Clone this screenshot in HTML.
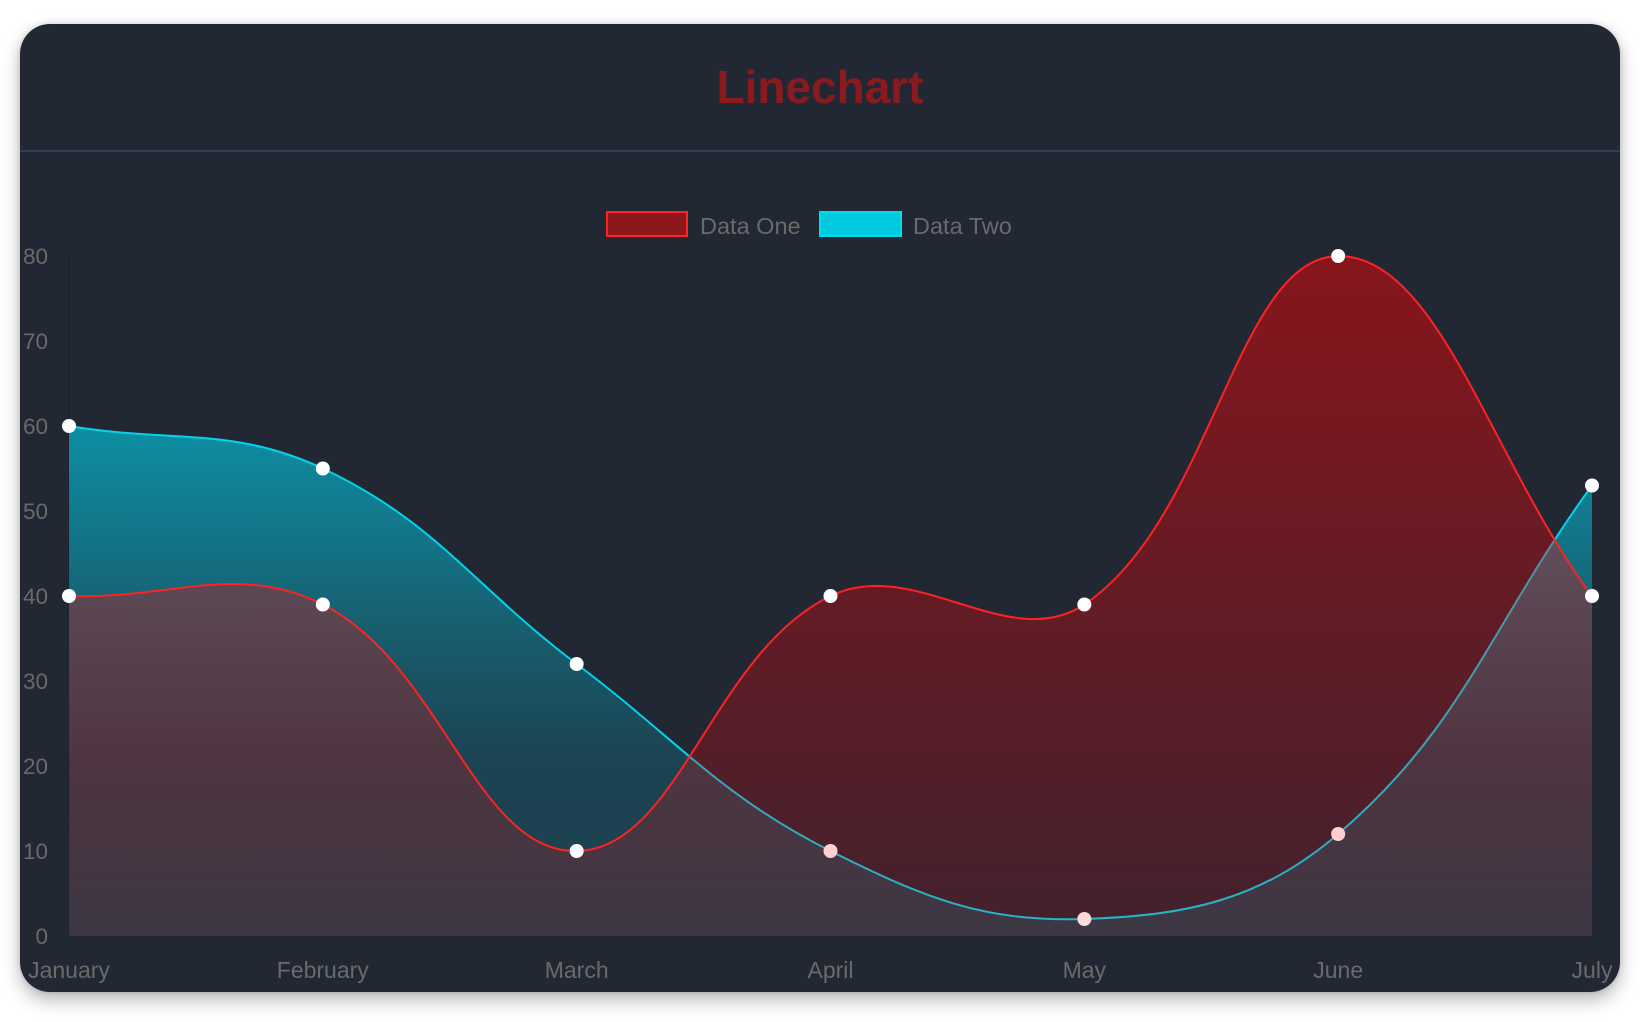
<!DOCTYPE html>
<html>
<head>
<meta charset="utf-8">
<style>
  html, body { margin: 0; padding: 0; background: #ffffff; }
  body { width: 1640px; height: 1022px; position: relative; overflow: hidden; }
  .card {
    position: absolute; left: 20px; top: 24px; width: 1600px; height: 968px;
    background: #222734; border-radius: 30px;
    box-shadow: 0 8px 18px rgba(0,0,0,0.28), 0 0 6px rgba(0,0,0,0.14);
  }
  svg { position: absolute; left: 0; top: 0; }
  text { font-family: "Liberation Sans", Arial, sans-serif; }
</style>
</head>
<body>
<div class="card"></div>
<svg width="1640" height="1022" viewBox="0 0 1640 1022" xmlns="http://www.w3.org/2000/svg">
  <defs>
    <linearGradient id="gTeal" gradientUnits="userSpaceOnUse" x1="0" y1="256" x2="0" y2="936">
      <stop offset="0" stop-color="rgb(0,206,230)" stop-opacity="0.87"/>
      <stop offset="0.241" stop-color="rgb(0,206,230)" stop-opacity="0.63"/>
      <stop offset="0.579" stop-color="rgb(0,206,230)" stop-opacity="0.30"/>
      <stop offset="0.741" stop-color="rgb(0,206,230)" stop-opacity="0.17"/>
      <stop offset="1" stop-color="rgb(0,206,230)" stop-opacity="0.15"/>
    </linearGradient>
    <linearGradient id="gRed" gradientUnits="userSpaceOnUse" x1="0" y1="256" x2="0" y2="936">
      <stop offset="0" stop-color="rgb(255,0,0)" stop-opacity="0.46"/>
      <stop offset="1" stop-color="rgb(255,0,0)" stop-opacity="0.14"/>
    </linearGradient>
  </defs>

  <!-- Title -->
  <text x="820" y="103" text-anchor="middle" font-size="46" font-weight="bold" fill="#8b1a1f">Linechart</text>

  <!-- Divider -->
  <rect x="20" y="150" width="1600" height="2" fill="#353c56"/>

  <!-- Legend -->
  <rect x="607" y="212" width="80" height="24" fill="#8c171c" stroke="#ff2424" stroke-width="2"/>
  <text x="700" y="234" font-size="23.5" fill="#6a6a6a">Data One</text>
  <rect x="820" y="212" width="81" height="24" fill="#00c9de" stroke="#00dcf0" stroke-width="2"/>
  <text x="913" y="234" font-size="23.5" fill="#6a6a6a">Data Two</text>

  <!-- Y axis line -->
  <line x1="69" y1="256" x2="69" y2="936" stroke="rgba(0,0,0,0.18)" stroke-width="1"/>

  <!-- Y labels -->
  <g font-size="22.5" fill="#6a6a6a" text-anchor="end">
    <text x="48" y="264">80</text>
    <text x="48" y="349">70</text>
    <text x="48" y="434">60</text>
    <text x="48" y="519">50</text>
    <text x="48" y="604">40</text>
    <text x="48" y="689">30</text>
    <text x="48" y="774">20</text>
    <text x="48" y="859">10</text>
    <text x="48" y="944">0</text>
  </g>

  <!-- X labels -->
  <g font-size="23" fill="#6a6a6a" text-anchor="middle">
    <text x="69" y="978">January</text>
    <text x="322.8" y="978">February</text>
    <text x="576.7" y="978">March</text>
    <text x="830.5" y="978">April</text>
    <text x="1084.3" y="978">May</text>
    <text x="1338.2" y="978">June</text>
    <text x="1592" y="978">July</text>
  </g>

  <!-- Data Two (teal) -->
  <path d="M69,426 C170.53,443 232.37,426.09 322.83,468.5 C435.44,521.29 474.32,586.88 576.67,664 C677.39,739.88 719.75,795.37 830.5,851 C922.82,897.37 983.74,922.37 1084.33,919 C1186.8,915.57 1260.39,900.42 1338.17,834 C1463.45,727.02 1490.47,624.9 1592,485.5 L1592,936 L69,936 Z" fill="url(#gTeal)"/>
  <path d="M69,426 C170.53,443 232.37,426.09 322.83,468.5 C435.44,521.29 474.32,586.88 576.67,664 C677.39,739.88 719.75,795.37 830.5,851 C922.82,897.37 983.74,922.37 1084.33,919 C1186.8,915.57 1260.39,900.42 1338.17,834 C1463.45,727.02 1490.47,624.9 1592,485.5" fill="none" stroke="#00d4ea" stroke-width="2"/>
  <g fill="#ffffff">
    <circle cx="69" cy="426" r="7"/>
    <circle cx="322.83" cy="468.5" r="7"/>
    <circle cx="576.67" cy="664" r="7"/>
    <circle cx="830.5" cy="851" r="7"/>
    <circle cx="1084.33" cy="919" r="7"/>
    <circle cx="1338.17" cy="834" r="7"/>
    <circle cx="1592" cy="485.5" r="7"/>
  </g>

  <!-- Data One (red) -->
  <path d="M69,596 C170.53,599.4 237.97,561.88 322.83,604.5 C441.04,663.88 475.99,852.69 576.67,851 C679.06,849.29 711.46,653.8 830.5,596 C914.53,555.2 1009.05,654.92 1084.33,604.5 C1212.12,518.92 1235.82,257.71 1338.17,256 C1438.89,256 1490.47,460 1592,596 L1592,936 L69,936 Z" fill="url(#gRed)"/>
  <path d="M69,596 C170.53,599.4 237.97,561.88 322.83,604.5 C441.04,663.88 475.99,852.69 576.67,851 C679.06,849.29 711.46,653.8 830.5,596 C914.53,555.2 1009.05,654.92 1084.33,604.5 C1212.12,518.92 1235.82,257.71 1338.17,256 C1438.89,256 1490.47,460 1592,596" fill="none" stroke="#ff2222" stroke-width="2"/>
  <g fill="#ffffff">
    <circle cx="69" cy="596" r="7"/>
    <circle cx="322.83" cy="604.5" r="7"/>
    <circle cx="576.67" cy="851" r="7"/>
    <circle cx="830.5" cy="596" r="7"/>
    <circle cx="1084.33" cy="604.5" r="7"/>
    <circle cx="1338.17" cy="256" r="7"/>
    <circle cx="1592" cy="596" r="7"/>
  </g>
</svg>
</body>
</html>
